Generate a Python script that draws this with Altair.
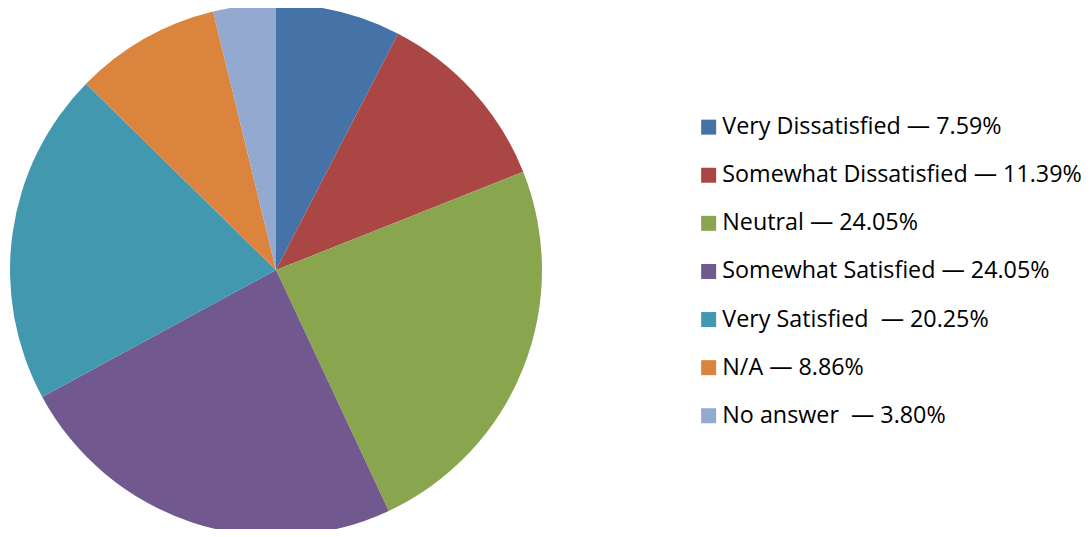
import altair as alt
import pandas as pd

categories = ["Very Dissatisfied", "Somewhat Dissatisfied", "Neutral",
              "Somewhat Satisfied", "Very Satisfied\u00a0", "N/A", "No answer\u00a0"]
percents = [7.59, 11.39, 24.05, 24.05, 20.25, 8.86, 3.80]
colors = ["#4572A7", "#AA4643", "#89A54E", "#71588F", "#4198AF", "#DB843D", "#93A9CF"]

labels = [f"{c} \u2014 {p:.2f}%" for c, p in zip(categories, percents)]
df = pd.DataFrame({"label": labels, "value": percents, "idx": list(range(len(labels)))})

chart = alt.Chart(df).mark_arc(stroke=None).encode(
    theta=alt.Theta("value:Q", stack=True),
    order=alt.Order("idx:Q"),
    x=alt.value(268),
    y=alt.value(262),
    radius=alt.value(266),
    color=alt.Color(
        "label:N",
        scale=alt.Scale(domain=labels, range=colors),
        legend=alt.Legend(
            title=None,
            orient="none",
            legendX=689,
            legendY=107.5,
            symbolType="square",
            symbolSize=225,
            symbolStrokeWidth=0,
            labelFont="Open Sans",
            labelFontSize=23.3,
            labelColor="#000000",
            labelOffset=2,
            rowPadding=24.1,
            labelLimit=500,
        ),
    ),
).properties(
    width=1075, height=521, padding=0, autosize=alt.AutoSizeParams(type="none")
).configure_view(stroke=None)

chart.save("out.html", embed_options={"renderer": "svg", "actions": False})
